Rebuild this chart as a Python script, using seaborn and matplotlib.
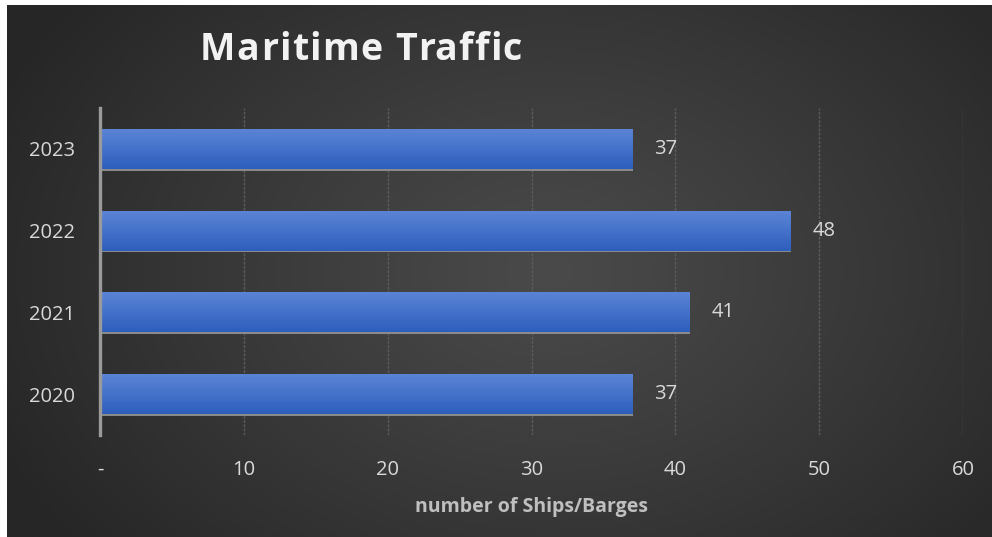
import numpy as np
import pandas as pd
import matplotlib
matplotlib.use("Agg")
import matplotlib.pyplot as plt
import matplotlib.patheffects as pe
import seaborn as sns

# ---- data ----
years = ["2023", "2022", "2021", "2020"]
ships = [37, 48, 41, 37]
x_ticks = [0, 10, 20, 30, 40, 50, 60]
x_tick_labels = ["-", "10", "20", "30", "40", "50", "60"]
title = "Maritime Traffic"
x_label = "number of Ships/Barges"

df = pd.DataFrame({"year": years, "ships": ships})

sns.set_theme(style="white")
plt.rcParams["font.family"] = ["Open Sans", "DejaVu Sans"]

W, H = 992, 537
fig = plt.figure(figsize=(W / 100, H / 100), dpi=100, facecolor="white")

# background radial gradient panel
bg = fig.add_axes([7 / W, 0, (W - 7) / W, (H - 5) / H], zorder=-10)
bg.set_axis_off()
ny, nx = 300, 560
yy, xx = np.mgrid[0:ny, 0:nx]
cx, cy = nx * 0.55, ny * 0.50
r = np.sqrt(((xx - cx) / nx) ** 2 + ((yy - cy) / ny * 0.75) ** 2)
r = np.clip(r / 0.62, 0, 1)
c0, c1 = 0x4a / 255, 0x26 / 255
val = c0 + (c1 - c0) * r ** 1.1
img = np.dstack([val, val, val])
bg.imshow(img, aspect="auto", extent=(0, 1, 0, 1), interpolation="bilinear")
bg.set_xlim(0, 1)
bg.set_ylim(0, 1)

# main axes
ax = fig.add_axes([100 / W, 1 - 435 / H, (963 - 100) / W, (435 - 108) / H])
ax.set_facecolor("none")

sns.barplot(data=df, x="ships", y="year", order=years, orient="h",
            color="#3d6cc9", width=0.49, ax=ax, saturation=1, zorder=3)

# gradient fill + shadow on bars
grad = np.linspace(0, 1, 64)[:, None]
top = np.array([0x5c, 0x85, 0xd6]) / 255
bot = np.array([0x2d, 0x5e, 0xbd]) / 255
gimg = top[None, None, :] * (1 - grad[:, :, None]) + bot[None, None, :] * grad[:, :, None]
gimg = np.repeat(gimg, 2, axis=1)
for p in list(ax.patches):
    p.set_path_effects([pe.SimplePatchShadow(offset=(0.5, -1.3), shadow_rgbFace="#8a8a8a", alpha=1.0), pe.Normal()])
    p.set_edgecolor("none")
    x0, y0, w, h = p.get_x(), p.get_y(), p.get_width(), p.get_height()
    im = ax.imshow(gimg, extent=(x0, x0 + w, y0 + h, y0), aspect="auto",
                   origin="upper", zorder=4, interpolation="bilinear")
    im.set_clip_path(p)

ax.set_xlim(0, 60)
ax.set_ylim(3.5, -0.5)

# value labels
for yi, v in enumerate(ships):
    ax.annotate(f"{v}", xy=(v, yi), xytext=(16, 0), textcoords="offset points",
                ha="left", va="center", color="#d9d9d9", fontsize=14.5)

# grid
ax.set_xticks(x_ticks)
ax.set_xticklabels(x_tick_labels)
ax.grid(axis="x", color="#5c5c5c", linestyle=(0, (2, 1)), linewidth=1.0, zorder=0)
ax.grid(axis="y", visible=False)
for s in ["top", "right", "bottom"]:
    ax.spines[s].set_visible(False)
ax.spines["left"].set_color("#9a9a9a")
ax.spines["left"].set_linewidth(2.4)
ax.spines["left"].set_zorder(5)
ax.tick_params(axis="x", length=0, pad=18, colors="#d9d9d9", labelsize=14.5)
ax.tick_params(axis="y", length=0, pad=18, colors="#d9d9d9", labelsize=14.5)
ax.set_ylabel("")
ax.set_xlabel(x_label, color="#bfbfbf", fontsize=14, fontweight="bold", labelpad=12)

# title with letter spacing
renderer = fig.canvas.get_renderer()
tkw = dict(color="#f2f2f2", fontsize=27, fontweight="bold", va="baseline", ha="left")
probe = fig.text(0, 0, title, **tkw)
natural = probe.get_window_extent(renderer).width
probe.remove()
target_left, target_right = 200, 522
spacing = (target_right - target_left - natural) / (len(title) - 1)
base_y = 1 - 60 / H
for i, ch in enumerate(title):
    if i == 0:
        pw = 0.0
    else:
        pt = fig.text(0, 0, title[:i], **tkw)
        pw = pt.get_window_extent(renderer).width
        pt.remove()
    fig.text((target_left + pw + i * spacing) / W, base_y, ch, **tkw)

fig.savefig("out.png", dpi=100, facecolor="white")
